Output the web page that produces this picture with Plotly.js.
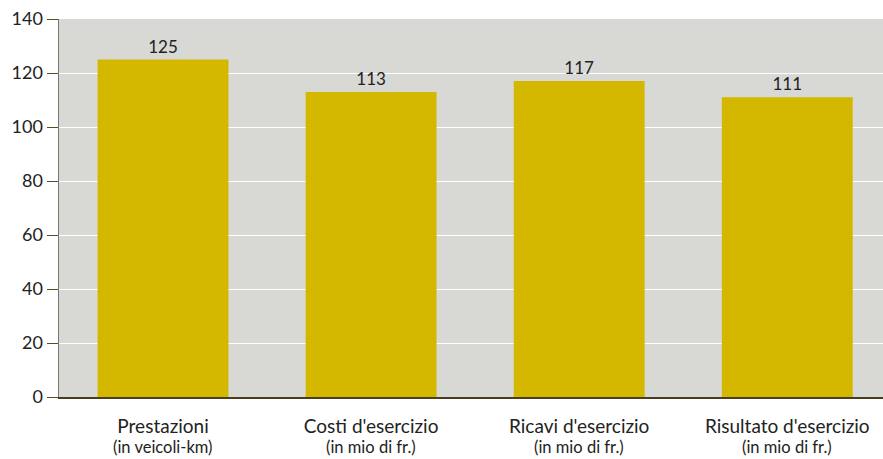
<!DOCTYPE html>
<html>
<head>
<meta charset="utf-8">
<script src="https://cdn.plot.ly/plotly-3.0.1.min.js"></script>
<style>html,body{margin:0;padding:0;background:#fff;}#chart{width:883px;height:459px;}</style>
</head>
<body>
<div id="chart"></div>
<script>
// Indici (base 100) per categoria
const categories = ["Prestazioni", "Costi d'esercizio", "Ricavi d'esercizio", "Risultato d'esercizio"];
const subLabels = ["(in veicoli-km)", "(in mio di fr.)", "(in mio di fr.)", "(in mio di fr.)"];
const values = [125, 113, 117, 111];
const yTicks = [0, 20, 40, 60, 80, 100, 120, 140];
const positions = categories.map((_, i) => i);

const trace = {
  type: "bar",
  x: positions,
  y: values,
  marker: {color: "#d4b800", line: {width: 0}},
  text: values.map(String),
  textposition: "outside",
  textfont: {size: 17, color: "#222"},
  cliponaxis: false,
  hoverinfo: "none"
};

// unità di misura sotto ogni categoria
const unitNotes = subLabels.map((s, i) => ({
  text: s,
  xref: "x", x: positions[i],
  yref: "paper", y: 0,
  yanchor: "middle", yshift: -50,
  showarrow: false,
  font: {size: 16.5, color: "#222"}
}));

const layout = {
  width: 883, height: 459,
  margin: {l: 59, r: 0, t: 19, b: 62},
  paper_bgcolor: "#ffffff",
  plot_bgcolor: "#d8d8d4",
  font: {family: "Lato, 'Open Sans', sans-serif", size: 18, color: "#222"},
  bargap: 0.371,
  showlegend: false,
  annotations: unitNotes,
  xaxis: {
    range: [-0.5, 3.46],
    tickmode: "array",
    tickvals: positions,
    ticktext: categories,
    tickfont: {size: 19, color: "#222"},
    ticklabelstandoff: 12,
    showgrid: false,
    showline: true,
    linecolor: "#4a3c1e",
    linewidth: 1.5,
    ticks: "",
    fixedrange: true
  },
  yaxis: {
    range: [0, 140],
    tickmode: "array",
    tickvals: yTicks,
    ticktext: yTicks.map(String),
    tickfont: {size: 18, color: "#222"},
    showgrid: true,
    gridcolor: "#ffffff",
    gridwidth: 1,
    zeroline: false,
    showline: true,
    linecolor: "#777",
    linewidth: 1.5,
    ticks: "outside",
    ticklen: 11,
    tickcolor: "#5a4a2a",
    tickwidth: 1,
    fixedrange: true
  }
};

Plotly.newPlot("chart", [trace], layout, {displayModeBar: false, staticPlot: true});
</script>
</body>
</html>
